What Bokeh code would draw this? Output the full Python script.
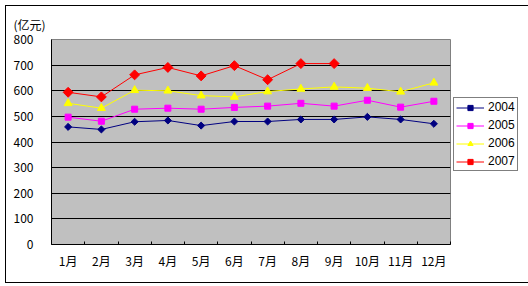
import numpy as np
from bokeh.plotting import figure
from bokeh.layouts import column
from bokeh.models import Range1d, FixedTicker, Legend, LegendItem, Title
from bokeh.embed import file_html
from bokeh.resources import INLINE

months = ["1月", "2月", "3月", "4月", "5月", "6月",
          "7月", "8月", "9月", "10月", "11月", "12月"]
v2004 = [459, 449, 479, 484, 464, 480, 480, 488, 488, 498, 488, 471]
v2005 = [497, 481, 528, 532, 528, 535, 540, 551, 540, 563, 536, 559]
v2006 = [551, 532, 602, 600, 581, 576, 597, 607, 615, 610, 596, 631]
v2007 = [594, 576, 662, 691, 658, 698, 643, 706, 706]
y_ticks = [0, 100, 200, 300, 400, 500, 600, 700, 800]
unit_label = "(亿元)"

FONT = "Noto Sans CJK SC"
LFONT = "Liberation Sans"
OFF = 6                      # page offset of the figure (margin + border)
W, H = 516, 275
FL, FT, FR, FB = 51 - OFF, 38 - OFF, 450 - OFF, 243 - OFF

p = figure(frame_width=FR - FL, frame_height=FB - FT,
           output_backend="svg", toolbar_location=None,
           x_range=Range1d(0, len(months)), y_range=Range1d(y_ticks[0], y_ticks[-1]),
           min_border_left=FL, min_border_right=W - FR,
           min_border_top=FT, min_border_bottom=H - FB)
p.background_fill_color = "#C0C0C0"
p.border_fill_color = "white"
p.outline_line_color = "#808080"
p.outline_line_width = 1

centers = [i + 0.5 for i in range(len(months))]

xa = p.xaxis[0]
xa.ticker = FixedTicker(ticks=centers, minor_ticks=list(range(len(months) + 1)))
xa.major_label_overrides = {c: m for c, m in zip(centers, months)}
xa.major_tick_line_color = None
xa.major_tick_out = 0
xa.major_tick_in = 0
xa.minor_tick_line_color = "black"
xa.minor_tick_in = 3
xa.minor_tick_out = 0
xa.axis_line_color = "black"
xa.major_label_standoff = 7
xa.major_label_text_font = FONT
xa.major_label_text_font_size = "12px"
xa.major_label_text_color = "black"

ya = p.yaxis[0]
ya.ticker = FixedTicker(ticks=y_ticks)
ya.major_tick_line_color = None
ya.minor_tick_line_color = None
ya.major_tick_out = 0
ya.major_tick_in = 0
ya.axis_line_color = "black"
ya.major_label_standoff = 18
ya.major_label_text_font = FONT
ya.major_label_text_font_size = "12px"
ya.major_label_text_color = "black"

p.xgrid.visible = False
p.ygrid.ticker = FixedTicker(ticks=y_ticks[1:-1])
p.ygrid.grid_line_color = "black"
p.ygrid.grid_line_width = 1

series = [
    ("2004", v2004, "#000080", "square", 5, np.pi / 4),
    ("2005", v2005, "#FF00FF", "square", 6, 0),
    ("2006", v2006, "#FFFF00", "triangle", 8, 0),
    ("2007", v2007, "#FF0000", "square", 7, np.pi / 4),
]
items = []
for name, vals, col, mk, sz, ang in series:
    xs = centers[:len(vals)]
    r1 = p.line(xs, vals, line_color=col, line_width=1)
    r2 = p.scatter(xs, vals, marker=mk, size=sz, angle=ang,
                   fill_color=col, line_color=col)
    items.append(LegendItem(label=name, renderers=[r1, r2]))

legend = Legend(items=items, location=(3, 73))
legend.border_line_color = "black"
legend.border_line_width = 1
legend.background_fill_color = "white"
legend.background_fill_alpha = 1
legend.padding = 2
legend.margin = 0
legend.spacing = 4
legend.glyph_width = 28
legend.glyph_height = 13
legend.label_height = 13
legend.label_standoff = 4
legend.label_text_font = LFONT
legend.label_text_font_size = "12px"
legend.label_text_color = "black"
p.add_layout(legend, "right")

p.add_layout(Title(text=unit_label, align="left", offset=-(FL - (13 - OFF)),
                   text_font=FONT, text_font_size="12px",
                   text_font_style="normal", text_color="black",
                   standoff=14), "above")

layout = column(p, margin=(5, 0, 0, 5),
                styles={"border": "1px solid black"})

open("out.html", "w").write(file_html(layout, INLINE))
